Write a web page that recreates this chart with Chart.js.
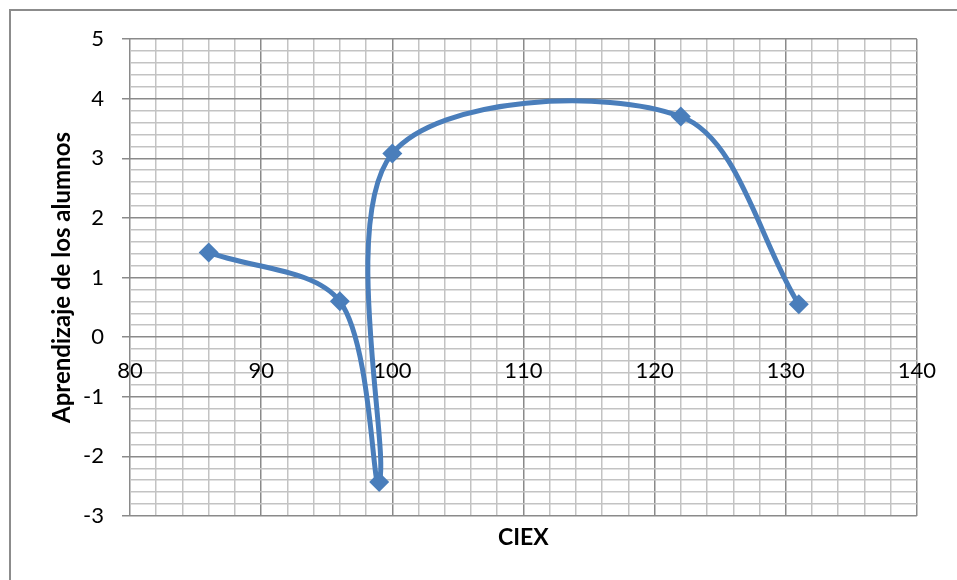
<!DOCTYPE html>
<html>
<head>
<meta charset="utf-8">
<script src="https://cdn.jsdelivr.net/npm/chart.js@4/dist/chart.umd.min.js"></script>
<style>
  html, body { margin: 0; padding: 0; background: #fff; }
  #wrap { width: 957px; height: 580px; position: relative; }
</style>
</head>
<body>
<div id="wrap"><canvas id="line-chart"></canvas></div>
<script>
// data
var ciex = [86, 96, 99, 100, 122, 131];
var aprendizaje = [1.42, 0.6, -2.43, 3.08, 3.7, 0.55];
var xTickLabels = [80, 90, 100, 110, 120, 130, 140];
var yTickLabels = [-3, -2, -1, 0, 1, 2, 3, 4, 5];

var majorGrid = "#8a8a8a";
var minorGrid = "#c3c3c3";

function isMajor(v, list) {
  return list.some(function (m) { return Math.abs(m - v) < 1e-6; });
}

//outer frame of the chart
var frame = {
  id: "frame",
  afterDraw: function (chart) {
    var c = chart.ctx;
    c.save();
    c.strokeStyle = "#8c8c8c";
    c.lineWidth = 2;
    c.strokeRect(10, 10, 980, 620);
    c.restore();
  }
};

new Chart(document.getElementById("line-chart"), {
  type: 'scatter',
  data: {
    datasets: [{
      data: ciex.map(function (x, i) { return {x: x, y: aprendizaje[i]}; }),
      showLine: true,
      tension: 0.33,
      borderColor: "#4a7ebb",
      backgroundColor: "#4a7ebb",
      borderWidth: 5,
      pointStyle: 'rectRot',
      pointRadius: 10,
      pointHoverRadius: 10,
      pointBorderWidth: 0
    }]
  },
  options: {
    responsive: true,
    maintainAspectRatio: false,
    animation: false,
    layout: { padding: { left: 0, top: 39, right: 36, bottom: 0 } },
    plugins: { legend: { display: false }, tooltip: { enabled: false } },
    scales: {
      x: {
        type: 'linear',
        position: { y: 0 },
        min: 80, max: 140,
        border: { display: false },
        grid: {
          drawTicks: false,
          lineWidth: 1.5,
          color: function (ctx) { return isMajor(ctx.tick.value, xTickLabels) ? majorGrid : minorGrid; }
        },
        ticks: {
          stepSize: 2,
          autoSkip: false,
          maxRotation: 0,
          padding: 21,
          color: "#000",
          font: { family: "Lato", size: 22 },
          callback: function (v) { return isMajor(v, xTickLabels) ? String(Math.round(v)) : ''; }
        }
      },
      x2: {
        type: 'linear',
        position: 'bottom',
        min: 80, max: 140,
        border: { display: false },
        grid: { display: false, drawTicks: false },
        ticks: { display: false },
        title: {
          display: true,
          text: "CIEX",
          color: "#000",
          font: { family: "Lato", size: 23, weight: 'bold' },
          padding: { top: 0, bottom: 29 }
        },
        afterFit: function (s) { s.height = 64; }
      },
      y: {
        type: 'linear',
        position: 'left',
        min: -3, max: 5,
        border: { display: false },
        grid: {
          lineWidth: 1.5,
          tickLength: 8,
          color: function (ctx) { return isMajor(ctx.tick.value, yTickLabels) ? majorGrid : minorGrid; },
          tickColor: function (ctx) { return isMajor(ctx.tick.value, yTickLabels) ? majorGrid : 'rgba(0,0,0,0)'; }
        },
        ticks: {
          stepSize: 0.2,
          autoSkip: false,
          padding: 18,
          color: "#000",
          font: { family: "Lato", size: 22 },
          callback: function (v) { return isMajor(v, yTickLabels) ? String(Math.round(v)) : ''; }
        },
        title: {
          display: true,
          text: "Aprendizaje de los alumnos",
          color: "#000",
          font: { family: "Lato", size: 24, weight: 'bold' },
          padding: { top: 48, bottom: 0 }
        },
        afterFit: function (s) { s.width = 130; }
      }
    }
  },
  plugins: [frame]
});
</script>
</body>
</html>
